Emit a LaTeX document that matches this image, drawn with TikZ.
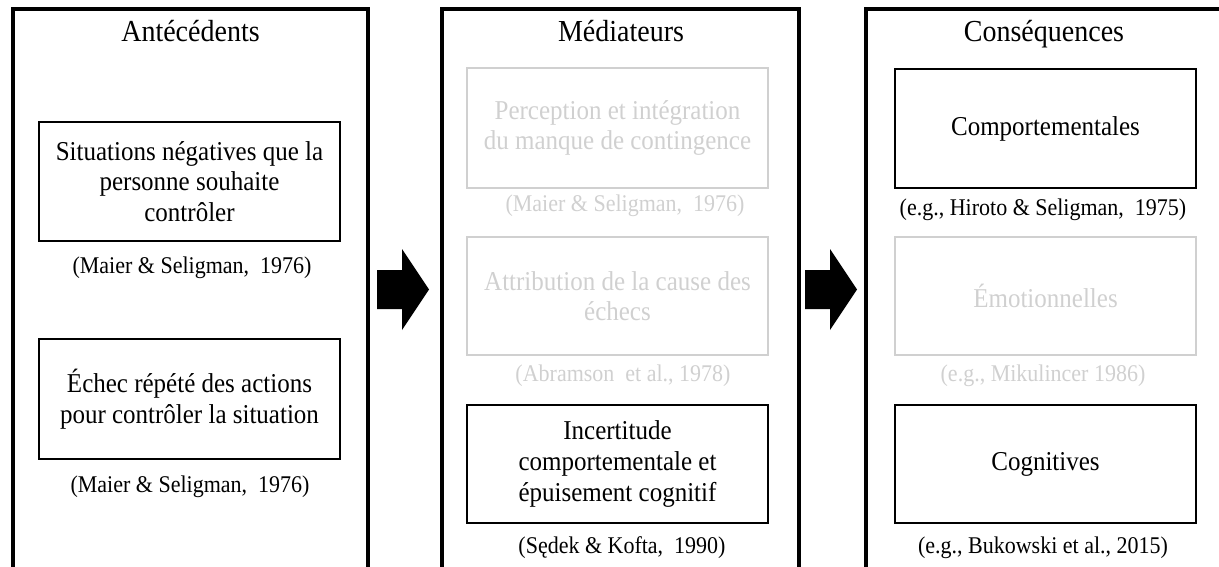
\documentclass[tikz,border=0pt]{standalone}
\usepackage{fontspec}
\setmainfont{Liberation Serif}
\definecolor{lightgr}{RGB}{208,208,208}
\tikzset{
  panel/.style={line width=3.4pt},
  tall/.style={yscale=1.09, transform shape},
  box/.style={tall, draw, line width=2.8pt, minimum width=301pt, minimum height=109pt,
    align=center, inner sep=0pt, font=\fontsize{25}{28}\selectfont},
  faded/.style={draw=lightgr, text=lightgr},
  cite/.style={tall, inner sep=0pt, font=\fontsize{22}{26}\selectfont},
  fadedcite/.style={cite, text=lightgr},
  title/.style={tall, inner sep=0pt, anchor=base, font=\fontsize{28}{32}\selectfont},
  blockarrow/.style={fill=black}
}
\begin{document}
\begin{tikzpicture}[x=1pt,y=-1pt]
\useasboundingbox (0,0) rectangle (1219,567);
% panels (open at the bottom)
\coordinate (p1a) at (13,590); \coordinate (p1b) at (13,9);
\coordinate (p1c) at (368,9); \coordinate (p1d) at (368,590);
\coordinate (p2a) at (442,590); \coordinate (p2b) at (442,9);
\coordinate (p2c) at (799,9); \coordinate (p2d) at (799,590);
\coordinate (p3a) at (866,590); \coordinate (p3b) at (866,9);
\coordinate (p3c) at (1240,9);
\draw[panel] (p1a) -- (p1b) -- (p1c) -- (p1d);
\draw[panel] (p2a) -- (p2b) -- (p2c) -- (p2d);
\draw[panel] (p3a) -- (p3b) -- (p3c);
% titles
\node[title] (t1) at (190.5,42) {Antécédents};
\node[title] (t2) at (621,42) {Médiateurs};
\node[title] (t3) at (1044,42) {Conséquences};
% left column
\node[box] (a1) at (189.5,181.5) {Situations négatives que la\\personne souhaite\\contrôler};
\node[cite] (ca1) at (192,268) {(Maier \& Seligman,~ 1976)};
\node[box, minimum height=110pt] (a2) at (189.5,399) {Échec répété des actions\\pour contrôler la situation};
\node[cite] (ca2) at (190,487) {(Maier \& Seligman,~ 1976)};
% middle column
\node[box, faded, minimum height=110pt] (m1) at (617.5,128) {Perception et intégration\\du manque de contingence};
\node[fadedcite] (cm1) at (625,206) {(Maier \& Seligman,~ 1976)};
\node[box, faded, minimum height=108.3pt] (m2) at (617.5,296) {Attribution de la cause des\\échecs};
\node[fadedcite] (cm2) at (623,376) {(Abramson~ et al., 1978)};
\node[box, minimum height=108.3pt] (m3) at (617.5,464) {Incertitude\\comportementale et\\épuisement cognitif};
\node[cite] (cm3) at (622,548) {(Sędek \& Kofta,~ 1990)};
% right column
\node[box] (c1) at (1045.5,128.5) {Comportementales};
\node[cite] (cc1) at (1043,210) {(e.g., Hiroto \& Seligman,~ 1975)};
\node[box, faded, minimum height=108.3pt] (c2) at (1045.5,296) {Émotionnelles};
\node[fadedcite] (cc2) at (1043,376) {(e.g., Mikulincer 1986)};
\node[box, minimum height=108.3pt] (c3) at (1045.5,464) {Cognitives};
\node[cite] (cc3) at (1043,548) {(e.g., Bukowski et al., 2015)};
% block arrows
\fill[blockarrow] (377,270) -- (402,270) -- (402,249) -- (429,289.5) -- (402,330) -- (402,309) -- (377,309) -- cycle;
\fill[blockarrow] (805,270) -- (830,270) -- (830,249) -- (857,289.5) -- (830,330) -- (830,309) -- (805,309) -- cycle;
\end{tikzpicture}
\end{document}
